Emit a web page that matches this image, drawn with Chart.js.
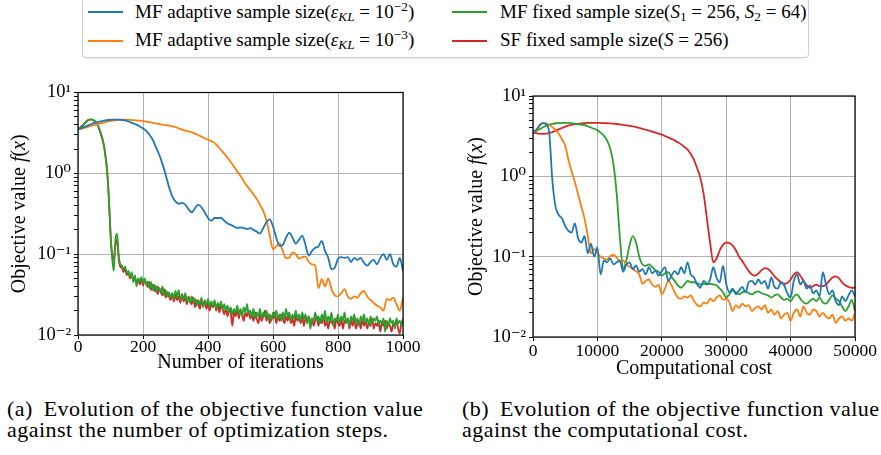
<!DOCTYPE html>
<html>
<head>
<meta charset="utf-8">
<script src="https://cdn.jsdelivr.net/npm/chart.js@4.4.1/dist/chart.umd.min.js"></script>
<style>
  body { margin: 0; width: 881px; height: 455px; background: #fff; position: relative; overflow: hidden; font-family: "Liberation Serif", serif; color: #000; }
  .box { position: absolute; }
  #legend { position: absolute; left: 82px; top: -6px; width: 725px; height: 62px; border: 1px solid #cfcfcf; border-radius: 4px; box-shadow: 0 1px 1px rgba(0,0,0,0.08); background: #fff; }
  .lline { position: absolute; width: 35px; height: 2px; }
  .ltext { position: absolute; font-size: 19px; line-height: 20px; white-space: nowrap; }
  .ltext sub, .ltext sup { font-size: 70%; line-height: 0; }
  .ltext sup { vertical-align: 0.5em; }
  .ltext sub { vertical-align: -0.25em; }
  .cap { position: absolute; top: 398px; font-size: 22px; line-height: 21px; letter-spacing: 0.45px; white-space: nowrap; }
</style>
</head>
<body>

<div id="legend"></div>
<div class="lline" style="left:88px;top:11px;background:#1f77b4"></div>
<div class="ltext" style="left:135px;top:2px">MF adaptive sample size(<i>ε</i><sub><i>KL</i></sub> = 10<sup>−2</sup>)</div>
<div class="lline" style="left:88px;top:40px;background:#ff7f0e"></div>
<div class="ltext" style="left:135px;top:30px">MF adaptive sample size(<i>ε</i><sub><i>KL</i></sub> = 10<sup>−3</sup>)</div>
<div class="lline" style="left:452px;top:11px;background:#2ca02c"></div>
<div class="ltext" style="left:500px;top:2px">MF fixed sample size(<i>S</i><sub>1</sub> = 256, <i>S</i><sub>2</sub> = 64)</div>
<div class="lline" style="left:452px;top:40px;background:#d62728"></div>
<div class="ltext" style="left:500px;top:30px">SF fixed sample size(<i>S</i> = 256)</div>

<div class="box" style="left:0;top:80px;width:430px;height:305px"><canvas id="chartA"></canvas></div>
<div class="box" style="left:455px;top:80px;width:426px;height:305px"><canvas id="chartB"></canvas></div>

<div class="cap" style="left:7px"><span style="margin-right:5px">(a)</span> Evolution of the objective function value<br>against the number of optimization steps.</div>
<div class="cap" style="left:462px"><span style="margin-right:5px">(b)</span> Evolution of the objective function value<br>against the computational cost.</div>

<script>
// y axis (log) ticks
const logTicks = [0.01, 0.02, 0.03, 0.04, 0.05, 0.06, 0.07, 0.08, 0.09,
                  0.1, 0.2, 0.3, 0.4, 0.5, 0.6, 0.7, 0.8, 0.9,
                  1, 2, 3, 4, 5, 6, 7, 8, 9, 10];
const logMajor = [0.01, 0.1, 1, 10];
const logMajorText = ['10⁻²', '10⁻¹', '10⁰', '10¹'];

// sampling positions
const itersCoarse = [];   // every 10 iterations
for (let i = 0; i <= 1000; i += 10) itersCoarse.push(i);
const itersFine = [];     // every 5 iterations
for (let i = 0; i <= 1000; i += 5) itersFine.push(i);
const costs = [];         // every 500 cost units
for (let c = 0; c <= 50000; c += 500) costs.push(c);

// (a) objective vs iterations
const iterBlue = [
  3.5, 3.6, 3.75, 3.9, 4.05, 4.2, 4.3, 4.4, 4.5, 4.55,
  4.6, 4.62, 4.63, 4.6, 4.55, 4.45, 4.3, 4.15, 4.0, 3.8,
  3.6, 3.35, 3.0, 2.6, 2.1, 1.7, 1.3, 0.95, 0.68, 0.52,
  0.45, 0.42, 0.43, 0.41, 0.36, 0.33, 0.37, 0.41, 0.38, 0.33,
  0.28, 0.26, 0.28, 0.28, 0.28, 0.26, 0.24, 0.23, 0.22, 0.21,
  0.215, 0.21, 0.205, 0.21, 0.2, 0.19, 0.18, 0.21, 0.25, 0.27,
  0.22, 0.16, 0.127, 0.13, 0.16, 0.185, 0.16, 0.135, 0.15, 0.17,
  0.13, 0.096, 0.11, 0.12, 0.125, 0.146, 0.11, 0.09, 0.065, 0.068,
  0.088, 0.092, 0.09, 0.092, 0.08, 0.09, 0.085, 0.09, 0.078, 0.072,
  0.08, 0.085, 0.075, 0.09, 0.1, 0.085, 0.1, 0.075, 0.07, 0.09,
  0.062
];
const iterOrange = [
  3.5, 3.55, 3.65, 3.75, 3.85, 3.95, 4.05, 4.15, 4.25, 4.35,
  4.45, 4.5, 4.55, 4.6, 4.6, 4.6, 4.58, 4.55, 4.52, 4.48,
  4.43, 4.37, 4.3, 4.22, 4.15, 4.08, 4.0, 3.95, 3.88, 3.8,
  3.72, 3.6, 3.48, 3.38, 3.3, 3.22, 3.1, 2.97, 2.85, 2.72,
  2.6, 2.5, 2.38, 2.15, 1.95, 1.75, 1.56, 1.38, 1.21, 1.06,
  0.93, 0.8, 0.7, 0.62, 0.55, 0.48, 0.41, 0.34, 0.26, 0.17,
  0.115, 0.125, 0.137, 0.11, 0.089, 0.09, 0.105, 0.1, 0.088, 0.092,
  0.093, 0.08, 0.075, 0.072, 0.038, 0.049, 0.04, 0.05, 0.037, 0.031,
  0.03, 0.033, 0.037, 0.03, 0.028, 0.03, 0.029, 0.033, 0.035, 0.03,
  0.027, 0.025, 0.023, 0.022, 0.02, 0.028, 0.027, 0.029, 0.024, 0.02,
  0.029
];
const iterGreen = [
  3.5, 3.6, 3.75, 3.9, 4.1, 4.3, 4.5, 4.6, 4.65, 4.6,
  4.5, 4.3, 4.0, 3.6, 3.15, 2.7, 2.2, 1.6, 1.05, 0.5,
  0.18, 0.09, 0.062, 0.15, 0.18, 0.1, 0.075, 0.072, 0.065, 0.07,
  0.058, 0.062, 0.052, 0.06, 0.045, 0.055, 0.04, 0.05, 0.046, 0.052,
  0.044, 0.05, 0.041, 0.046, 0.038, 0.045, 0.036, 0.042, 0.034, 0.04,
  0.037, 0.033, 0.04, 0.031, 0.036, 0.03, 0.034, 0.029, 0.033, 0.028,
  0.035, 0.03, 0.036, 0.027, 0.031, 0.028, 0.033, 0.026, 0.029, 0.025,
  0.03, 0.026, 0.028, 0.023, 0.027, 0.024, 0.029, 0.022, 0.026, 0.024,
  0.028, 0.022, 0.026, 0.023, 0.027, 0.021, 0.025, 0.022, 0.026, 0.021,
  0.024, 0.02, 0.023, 0.019, 0.022, 0.018, 0.021, 0.019, 0.023, 0.018,
  0.021, 0.017, 0.022, 0.019, 0.024, 0.018, 0.02, 0.017, 0.021, 0.016,
  0.019, 0.017, 0.021, 0.016, 0.019, 0.017, 0.02, 0.016, 0.018, 0.015,
  0.019, 0.017, 0.02, 0.016, 0.018, 0.015, 0.019, 0.016, 0.021, 0.017,
  0.019, 0.015, 0.018, 0.016, 0.02, 0.016, 0.018, 0.015, 0.019, 0.016,
  0.018, 0.014, 0.017, 0.012, 0.016, 0.015, 0.019, 0.015, 0.017, 0.014,
  0.018, 0.015, 0.02, 0.014, 0.017, 0.015, 0.019, 0.013, 0.016, 0.015,
  0.018, 0.014, 0.017, 0.015, 0.019, 0.014, 0.016, 0.013, 0.017, 0.015,
  0.018, 0.014, 0.016, 0.013, 0.017, 0.015, 0.018, 0.014, 0.016, 0.013,
  0.017, 0.014, 0.016, 0.015, 0.017, 0.013, 0.015, 0.014, 0.016, 0.011,
  0.015, 0.013, 0.016, 0.014, 0.015, 0.012, 0.016, 0.014, 0.015, 0.013,
  0.016
];
const iterRed = [
  3.5, 3.62, 3.8, 3.95, 4.15, 4.35, 4.52, 4.62, 4.65, 4.58,
  4.45, 4.25, 3.95, 3.55, 3.1, 2.65, 2.15, 1.55, 1.0, 0.48,
  0.18, 0.1, 0.085, 0.13, 0.15, 0.09, 0.07, 0.068, 0.06, 0.066,
  0.055, 0.06, 0.05, 0.056, 0.048, 0.052, 0.044, 0.049, 0.042, 0.05,
  0.041, 0.047, 0.044, 0.039, 0.045, 0.036, 0.042, 0.035, 0.04, 0.032,
  0.038, 0.034, 0.031, 0.037, 0.029, 0.034, 0.03, 0.027, 0.033, 0.026,
  0.031, 0.027, 0.03, 0.025, 0.032, 0.026, 0.029, 0.024, 0.03, 0.027,
  0.024, 0.029, 0.022, 0.027, 0.025, 0.021, 0.026, 0.023, 0.027, 0.021,
  0.025, 0.02, 0.024, 0.022, 0.026, 0.02, 0.024, 0.019, 0.023, 0.021,
  0.018, 0.022, 0.017, 0.021, 0.019, 0.013, 0.02, 0.017, 0.021, 0.016,
  0.02, 0.018, 0.015, 0.019, 0.017, 0.02, 0.016, 0.018, 0.015, 0.019,
  0.016, 0.014, 0.018, 0.015, 0.017, 0.02, 0.015, 0.018, 0.014, 0.017,
  0.016, 0.019, 0.014, 0.017, 0.015, 0.018, 0.016, 0.014, 0.017, 0.015,
  0.018, 0.014, 0.016, 0.013, 0.017, 0.015, 0.016, 0.014, 0.017, 0.013,
  0.016, 0.015, 0.017, 0.014, 0.016, 0.013, 0.015, 0.017, 0.013, 0.016,
  0.014, 0.017, 0.013, 0.015, 0.012, 0.016, 0.014, 0.015, 0.012, 0.016,
  0.014, 0.013, 0.016, 0.012, 0.015, 0.014, 0.016, 0.012, 0.015, 0.013,
  0.016, 0.012, 0.014, 0.015, 0.012, 0.016, 0.013, 0.015, 0.012, 0.014,
  0.013, 0.016, 0.012, 0.014, 0.013, 0.015, 0.011, 0.014, 0.013, 0.015,
  0.012, 0.014, 0.013, 0.011, 0.014, 0.013, 0.015, 0.012, 0.0105, 0.014,
  0.015
];

// (b) objective vs computational cost
const costBlue = [
  3.5, 3.8, 4.3, 4.6, 4.5, 3.6, 0.9, 0.42, 0.33, 0.3,
  0.24, 0.21, 0.2, 0.26, 0.17, 0.15, 0.18, 0.11, 0.145, 0.1,
  0.13, 0.06, 0.09, 0.085, 0.095, 0.08, 0.085, 0.09, 0.065, 0.08,
  0.085, 0.07, 0.078, 0.065, 0.07, 0.06, 0.074, 0.062, 0.067, 0.058,
  0.066, 0.074, 0.05, 0.058, 0.066, 0.06, 0.074, 0.062, 0.085, 0.06,
  0.055, 0.045, 0.041, 0.05, 0.046, 0.052, 0.074, 0.055, 0.048, 0.077,
  0.046, 0.036, 0.04, 0.034, 0.038, 0.042, 0.036, 0.048, 0.05, 0.045,
  0.052, 0.046, 0.05, 0.04, 0.055, 0.042, 0.04, 0.048, 0.044, 0.035,
  0.031, 0.05, 0.06, 0.045, 0.05, 0.04, 0.044, 0.035, 0.038, 0.032,
  0.064, 0.045, 0.034, 0.038, 0.028, 0.025, 0.032, 0.028, 0.033, 0.038,
  0.032
];
const costOrange = [
  3.5, 3.7, 4.2, 4.6, 4.55, 4.35, 4.1, 3.8, 3.4, 2.9,
  2.4, 1.6, 1.15, 0.85, 0.6, 0.42, 0.3, 0.18, 0.11, 0.125,
  0.11, 0.1, 0.095, 0.092, 0.102, 0.105, 0.098, 0.085, 0.09, 0.08,
  0.075, 0.07, 0.066, 0.06, 0.046, 0.05, 0.052, 0.045, 0.042, 0.045,
  0.034, 0.04, 0.05, 0.044, 0.036, 0.031, 0.03, 0.032, 0.031, 0.033,
  0.028, 0.025, 0.024, 0.027, 0.026, 0.03, 0.028, 0.031, 0.033, 0.029,
  0.03, 0.027, 0.021, 0.025, 0.023, 0.026, 0.024, 0.025, 0.021, 0.023,
  0.024, 0.022, 0.025, 0.02, 0.022, 0.019, 0.021, 0.017, 0.019, 0.02,
  0.016, 0.02, 0.022, 0.018, 0.024, 0.02, 0.019, 0.022, 0.021, 0.018,
  0.02, 0.018, 0.017, 0.019, 0.015, 0.017, 0.018, 0.016, 0.017, 0.016,
  0.02
];
const costGreen = [
  3.5, 3.65, 3.85, 4.05, 4.25, 4.4, 4.5, 4.58, 4.6, 4.62,
  4.62, 4.6, 4.58, 4.52, 4.45, 4.4, 4.34, 4.2, 4.05, 3.9,
  3.76, 3.5, 3.2, 2.8, 2.2, 1.4, 0.6, 0.17, 0.07, 0.09,
  0.14, 0.18, 0.15, 0.1, 0.08, 0.077, 0.08, 0.075, 0.068, 0.065,
  0.058, 0.062, 0.064, 0.056, 0.05, 0.044, 0.041, 0.045, 0.05, 0.048,
  0.048, 0.047, 0.045, 0.046, 0.045, 0.046, 0.045, 0.044, 0.04, 0.036,
  0.031, 0.034, 0.038, 0.036, 0.034, 0.036, 0.037, 0.035, 0.034, 0.036,
  0.037, 0.035, 0.034, 0.033, 0.031, 0.033, 0.034, 0.031, 0.029, 0.03,
  0.028, 0.032, 0.034, 0.03, 0.027, 0.026, 0.028, 0.03, 0.028, 0.031,
  0.027, 0.026, 0.029, 0.033, 0.03, 0.028, 0.024, 0.021, 0.024, 0.029,
  0.021
];
const costRed = [
  3.5, 3.45, 3.4, 3.38, 3.4, 3.45, 3.55, 3.7, 3.85, 4.0,
  4.15, 4.28, 4.38, 4.45, 4.52, 4.57, 4.6, 4.62, 4.63, 4.63,
  4.63, 4.62, 4.6, 4.58, 4.55, 4.52, 4.48, 4.43, 4.37, 4.3,
  4.25, 4.18, 4.1, 4.0, 3.9, 3.8, 3.7, 3.6, 3.5, 3.4,
  3.3, 3.17, 3.05, 2.93, 2.8, 2.65, 2.5, 2.32, 2.15, 1.9,
  1.6, 1.25, 0.95, 0.6, 0.3, 0.15, 0.085, 0.095, 0.12, 0.14,
  0.15, 0.148, 0.137, 0.12, 0.1, 0.088, 0.076, 0.066, 0.06, 0.058,
  0.062, 0.068, 0.072, 0.07, 0.064, 0.057, 0.052, 0.048, 0.046, 0.047,
  0.052, 0.06, 0.064, 0.058, 0.05, 0.044, 0.041, 0.043, 0.045, 0.043,
  0.043, 0.045, 0.05, 0.055, 0.057, 0.054, 0.048, 0.044, 0.042, 0.041,
  0.041
];

const seriesNames = [
  'MF adaptive sample size(εKL = 10⁻²)',
  'MF adaptive sample size(εKL = 10⁻³)',
  'MF fixed sample size(S1 = 256, S2 = 64)',
  'SF fixed sample size(S = 256)'
];
const seriesColors = ['#1f77b4', '#ff7f0e', '#2ca02c', '#d62728'];

const FONT = '"Liberation Serif", "DejaVu Serif", serif';

function pts(xs, ys) {
  return ys.map((y, i) => ({ x: xs[i], y: y }));
}

function dataset(k, xs, ys) {
  return {
    label: seriesNames[k],
    data: pts(xs, ys),
    borderColor: seriesColors[k],
    backgroundColor: seriesColors[k],
    borderWidth: 1.8,
    pointRadius: 0,
    cubicInterpolationMode: 'monotone',
    fill: false
  };
}

// box round the plot area, like matplotlib spines
const spines = {
  id: 'spines',
  afterDatasetsDraw(chart) {
    const { ctx, chartArea: a } = chart;
    ctx.save();
    ctx.strokeStyle = '#000';
    ctx.lineWidth = 1.2;
    ctx.strokeRect(a.left, a.top, a.right - a.left, a.bottom - a.top);
    ctx.restore();
  }
};

// y title with italic f(x)
const yTitle = {
  id: 'yTitle',
  afterDraw(chart, args, opts) {
    const { ctx, chartArea: a } = chart;
    const parts = [['Objective value ', false], ['f', true], ['(', false], ['x', true], [')', false]];
    ctx.save();
    ctx.translate(opts.x, (a.top + a.bottom) / 2);
    ctx.rotate(-Math.PI / 2);
    ctx.fillStyle = '#000';
    ctx.textBaseline = 'middle';
    ctx.textAlign = 'left';
    let total = 0;
    parts.forEach(p => {
      ctx.font = (p[1] ? 'italic ' : '') + '20px ' + FONT;
      total += ctx.measureText(p[0]).width;
    });
    let pos = -total / 2;
    parts.forEach(p => {
      ctx.font = (p[1] ? 'italic ' : '') + '20px ' + FONT;
      ctx.fillText(p[0], pos, 0);
      pos += ctx.measureText(p[0]).width;
    });
    ctx.restore();
  }
};

function makeOptions(cfg) {
  return {
    responsive: true,
    maintainAspectRatio: false,
    animation: false,
    layout: { padding: { left: 0, top: cfg.padTop, right: cfg.padRight, bottom: 0 } },
    plugins: {
      legend: { display: false },
      tooltip: { enabled: false },
      yTitle: { x: cfg.yTitleX }
    },
    scales: {
      x: {
        type: 'linear',
        min: 0,
        max: cfg.xMax,
        ticks: {
          stepSize: cfg.xStep,
          autoSkip: false,
          maxRotation: 0,
          color: '#000',
          padding: cfg.xTickPad,
          font: { family: FONT, size: 17.5 },
          callback: v => String(v)
        },
        grid: { color: '#b0b0b0', lineWidth: 1, tickColor: '#000', tickLength: 4 },
        border: { display: false },
        title: {
          display: true,
          text: cfg.xTitle,
          color: '#000',
          font: { family: FONT, size: 20 },
          padding: { top: 0, bottom: cfg.xTitlePad }
        },
        afterFit(s) { s.height = cfg.xHeight; s.paddingLeft = 0; s.paddingRight = 0; }
      },
      y: {
        type: 'logarithmic',
        min: 0.01,
        max: 10,
        afterBuildTicks(s) {
          s.ticks = logTicks.map(v => ({ value: v, major: logMajor.includes(v) }));
        },
        ticks: {
          autoSkip: false,
          color: '#000',
          padding: 3,
          font: { family: FONT, size: 18.5 },
          callback: v => {
            const i = logMajor.indexOf(v);
            return i < 0 ? '' : logMajorText[i];
          }
        },
        grid: {
          color: c => (c.tick && c.tick.major) ? '#b0b0b0' : 'rgba(0,0,0,0)',
          lineWidth: 1,
          tickColor: '#000',
          tickLength: 4
        },
        border: { display: false },
        afterFit(s) { s.width = 78; s.paddingTop = 0; s.paddingBottom = 0; }
      }
    }
  };
}

new Chart(document.getElementById('chartA'), {
  type: 'line',
  data: {
    datasets: [
      dataset(0, itersCoarse, iterBlue),
      dataset(1, itersCoarse, iterOrange),
      dataset(2, itersFine, iterGreen),
      dataset(3, itersFine, iterRed)
    ]
  },
  options: makeOptions({
    xMax: 1000, xStep: 200, xTitle: 'Number of iterations',
    padTop: 12.5, padRight: 27, xHeight: 50, xTickPad: -2, xTitlePad: 10, yTitleX: 20
  }),
  plugins: [spines, yTitle]
});

new Chart(document.getElementById('chartB'), {
  type: 'line',
  data: {
    datasets: [
      dataset(0, costs, costBlue),
      dataset(1, costs, costOrange),
      dataset(2, costs, costGreen),
      dataset(3, costs, costRed)
    ]
  },
  options: makeOptions({
    xMax: 50000, xStep: 10000, xTitle: 'Computational cost',
    padTop: 16, padRight: 26, xHeight: 48, xTickPad: 0, xTitlePad: 4, yTitleX: 22
  }),
  plugins: [spines, yTitle]
});
</script>
</body>
</html>
